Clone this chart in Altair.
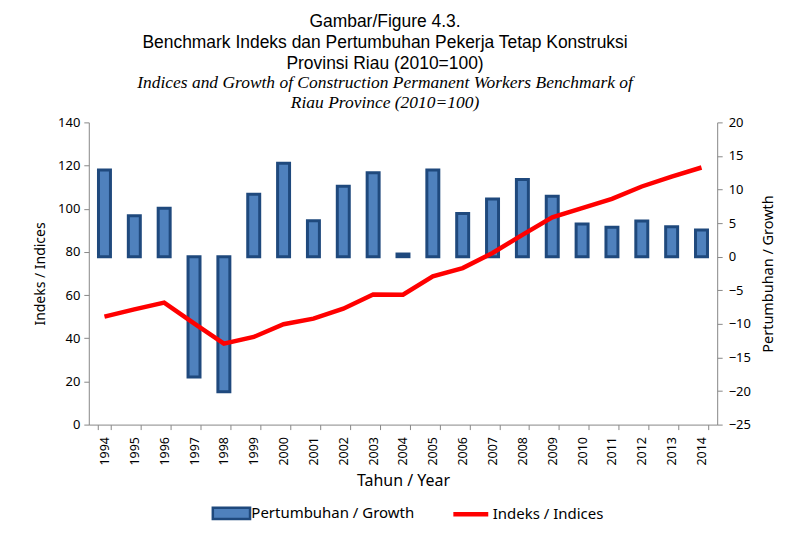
import altair as alt
import pandas as pd

years = [str(y) for y in range(1994, 2015)]
growth = [12.9, 6.1, 7.2, -17.9, -20.1, 9.3, 13.9, 5.35, 10.5, 12.5, 0.4,
          12.9, 6.45, 8.6, 11.5, 9.0, 4.86, 4.4, 5.3, 4.46, 3.97]
index = [50.0, 53.4, 56.5, 46.9, 37.5, 40.6, 46.5, 49.1, 53.7, 60.3, 60.2,
         68.7, 72.5, 79.5, 87.9, 96.0, 100.3, 104.6, 110.3, 114.9, 119.1]

df = pd.DataFrame({"Tahun": years, "growth": growth, "index": index,
                   "g": "Pertumbuhan / Growth", "i": "Indeks / Indices"})

FONT = "Noto Sans"

x = alt.X("Tahun:N", title="Tahun / Year",
          scale=alt.Scale(paddingInner=0.55, paddingOuter=0.3),
          axis=alt.Axis(labelAngle=270, tickBand="extent", labelFont=FONT,
                        labelFontSize=12.5, labelColor="black", titleFont=FONT,
                        titleFontSize=16, titleFontWeight="normal",
                        titleColor="black", domainColor="#888888",
                        tickColor="#888888", tickSize=5, labelPadding=7,
                        titlePadding=7))

bars = alt.Chart(df).mark_bar(stroke="#1f497d", strokeWidth=3,
                              size=12).encode(
    x=x,
    y=alt.Y("growth:Q", title="Pertumbuhan / Growth",
            scale=alt.Scale(domain=[-25, 20], nice=False),
            axis=alt.Axis(orient="right", values=list(range(-25, 21, 5)),
                          grid=False, labelFont=FONT, labelFontSize=13,
                          labelColor="black", titleFont=FONT,
                          titleFontSize=14.5, titleFontWeight="normal",
                          titleColor="black", titleAngle=270,
                          titleBaseline="top",
                          domainColor="#888888",
                          tickColor="#888888", tickSize=5, labelPadding=6,
                          titlePadding=11)),
    color=alt.Color("g:N", scale=alt.Scale(domain=["Pertumbuhan / Growth"],
                                           range=["#4f81bd"]),
                    legend=alt.Legend(title=None, orient="none",
                                      legendX=131, legendY=380,
                                      symbolType="M-1.8,-0.55H1.8V0.55H-1.8Z",
                                      symbolSize=430,
                                      symbolStrokeColor="#1f497d",
                                      symbolStrokeWidth=2.5,
                                      labelFont=FONT, labelFontSize=15,
                                      labelOffset=8, labelLimit=400,
                                      labelColor="black"))
)

line = alt.Chart(df).mark_line(strokeWidth=4.5).encode(
    x=x,
    y=alt.Y("index:Q", title="Indeks / Indices",
            scale=alt.Scale(domain=[0, 140], nice=False),
            axis=alt.Axis(values=list(range(0, 141, 20)), gridColor="#888888",
                          gridWidth=1, labelFont=FONT, labelFontSize=13,
                          labelColor="black", titleFont=FONT,
                          titleFontSize=14, titleFontWeight="normal",
                          titleColor="black", domainColor="#888888",
                          tickColor="#888888", tickSize=5, labelPadding=4,
                          titlePadding=10)),
    stroke=alt.Stroke("i:N", scale=alt.Scale(domain=["Indeks / Indices"],
                                             range=["red"]),
                      legend=alt.Legend(title=None, orient="none",
                                        legendX=363, legendY=373,
                                        symbolType="stroke",
                                        symbolStrokeWidth=4.5,
                                        symbolSize=1225,
                                        labelFont=FONT, labelFontSize=15,
                                        labelOffset=2, labelLimit=400,
                                        labelColor="black"))
)

chart = alt.layer(bars, line).resolve_scale(
    y="independent", color="independent", stroke="independent"
).properties(
    width=630, height=303,
    title=alt.Title(
        text=["Gambar/Figure 4.3.",
              "Benchmark Indeks dan Pertumbuhan Pekerja Tetap Konstruksi",
              "Provinsi Riau (2010=100)"],
        subtitle=["Indices and Growth of Construction Permanent Workers Benchmark of",
                  "Riau Province (2010=100)"],
        font="Liberation Sans", fontSize=17.5, fontWeight="normal",
        lineHeight=21, color="black",
        subtitleFont="Liberation Serif", subtitleFontSize=17.5,
        subtitleFontStyle="italic", subtitleColor="black",
        subtitleLineHeight=20, subtitlePadding=2, offset=5, anchor="middle",
        dx=-18),
    padding={"left": 25, "right": 10, "top": 4, "bottom": 5}
).configure_view(strokeWidth=0).configure_legend(
    direction="horizontal", padding=0
)

chart.save("out.html", embed_options={"renderer": "svg", "actions": False})
